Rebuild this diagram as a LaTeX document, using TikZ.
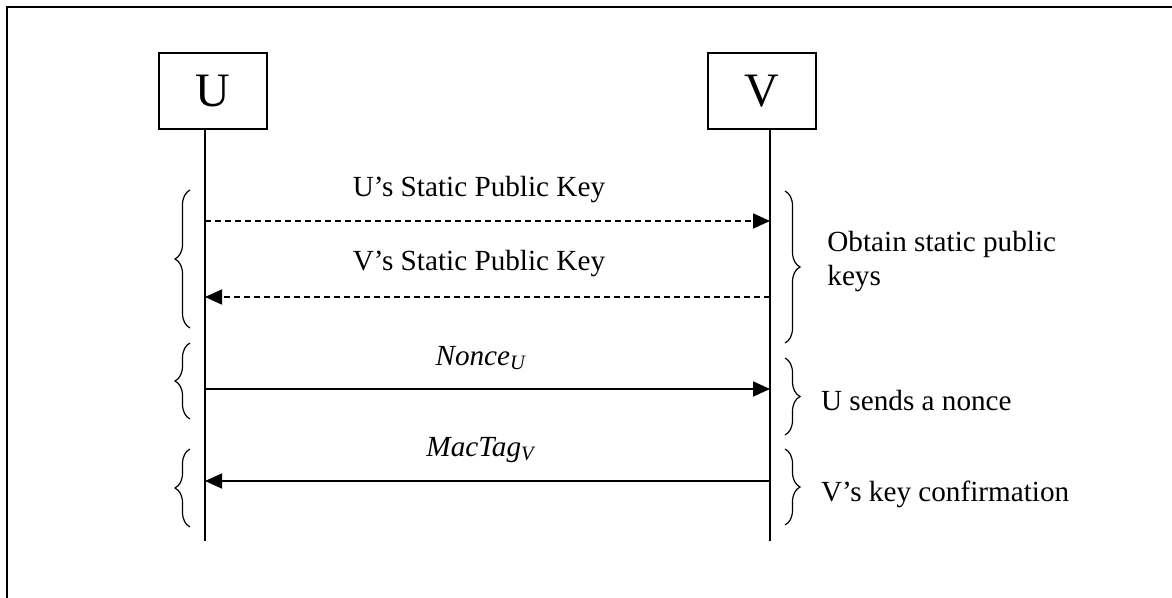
\documentclass[tikz,border=0pt]{standalone}
\usepackage{fontspec}
\setmainfont{Liberation Serif}
\usetikzlibrary{arrows.meta,decorations.pathreplacing}
\tikzstyle{party} = [draw, line width=0.65pt, minimum width=54pt, minimum height=38pt, inner sep=0pt, font=\fontsize{24}{28}\selectfont]
\tikzstyle{msg} = [line width=0.85pt, -{Triangle[length=8.5pt,width=7.5pt]}]
\tikzstyle{lbl} = [inner sep=0pt, anchor=base, font=\fontsize{14.6}{17}\selectfont]
\tikzstyle{note} = [inner sep=0pt, anchor=base west, align=left, font=\fontsize{14.6}{17}\selectfont]
\tikzstyle{grp} = [decorate, decoration={brace, amplitude=7.5pt}, line width=0.6pt]

\begin{document}
\begin{tikzpicture}[x=0.5pt, y=-0.5pt]
		\useasboundingbox (0,0) rectangle (1172,598);
		\draw [line width=1pt] (7,598) -- (7,7) -- (1172,7);
		
		\node [party] (U) at (213,91) {U};
		\node [party] (V) at (762,91) {V};
		
		\coordinate (Uend) at (205,541);
		\coordinate (Vend) at (770,541);
		\draw [line width=0.65pt] (Uend |- U.south) -- (Uend);
		\draw [line width=0.65pt] (Vend |- V.south) -- (Vend);
		
		\coordinate (u1) at (205,221);
		\coordinate (v1) at (770,221);
		\coordinate (u2) at (205,297);
		\coordinate (v2) at (770,297);
		\coordinate (u3) at (205,389);
		\coordinate (v3) at (770,389);
		\coordinate (u4) at (205,481);
		\coordinate (v4) at (770,481);
		
		\draw [msg, dash pattern=on 3.2pt off 1.8pt] (u1) -- (v1);
		\draw [msg, dash pattern=on 3.2pt off 1.8pt] (v2) -- (u2);
		\draw [msg] (u3) -- (v3);
		\draw [msg] (v4) -- (u4);
		
		\node [lbl] (k1) at (479,196.7) {U’s Static Public Key};
		\node [lbl] (k2) at (479,270.5) {V’s Static Public Key};
		\node [lbl] (k3) at (480.7,365) {\textit{Nonce\textsubscript{U}}};
		\node [lbl] (k4) at (480.5,456.5) {\textit{MacTag\textsubscript{V}}};
		
		% braces on the left
		\draw [grp] (190,328) -- (190,190);
		\draw [grp] (190,419) -- (190,343);
		\draw [grp] (190,527) -- (190,449);
		% braces on the right
		\draw [grp] (785,191) -- (785,343);
		\draw [grp] (785,358) -- (785,435);
		\draw [grp] (785,449) -- (785,525);
		
		\node [note] (g1) at (827,286) {Obtain static public\\keys};
		\node [note] (g2) at (820.7,410.7) {U sends a nonce};
		\node [note] (g3) at (820.7,501.7) {V’s key confirmation};
		
		\end{tikzpicture}
\end{document}
